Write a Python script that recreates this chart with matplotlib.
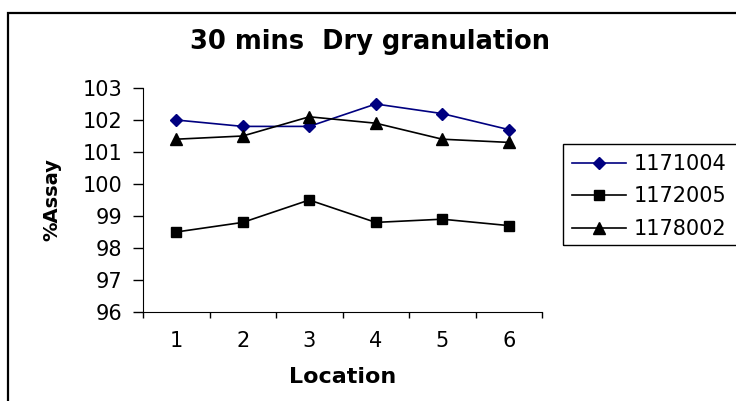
import matplotlib.pyplot as plt
from matplotlib.patches import Rectangle

# Chart data
locations = [1, 2, 3, 4, 5, 6]
batch_1171004 = [102.0, 101.8, 101.8, 102.5, 102.2, 101.7]
batch_1172005 = [98.5, 98.8, 99.5, 98.8, 98.9, 98.7]
batch_1178002 = [101.4, 101.5, 102.1, 101.9, 101.4, 101.3]
series_names = ['1171004', '1172005', '1178002']

W, H = 736, 401
fig = plt.figure(figsize=(W / 100, H / 100), dpi=100)

# outer chart border (right/bottom edges fall off the picture)
fig.patches.append(Rectangle((8 / W, -0.2), 1.5, (H - 13) / H + 0.2,
                             transform=fig.transFigure, fill=False,
                             edgecolor='black', linewidth=1.6))

# plot area in pixel positions
left, right, top, bottom = 143, 542, 88, 312
ax = fig.add_axes([left / W, (H - bottom) / H, (right - left) / W, (bottom - top) / H])

ax.plot(locations, batch_1171004, color='#000080', marker='D', markersize=6.5,
        linewidth=1.2, label=series_names[0])
ax.plot(locations, batch_1172005, color='black', marker='s', markersize=7.5,
        linewidth=1.2, label=series_names[1])
ax.plot(locations, batch_1178002, color='black', marker='^', markersize=8.5,
        linewidth=1.2, label=series_names[2])

ax.set_xlim(0.5, 6.5)
ax.set_ylim(96, 103)
ax.set_yticks(range(96, 104))
ax.set_xticks([0.5 + i for i in range(7)], minor=False)
ax.set_xticklabels([])
ax.set_xticks(locations, minor=True)
ax.set_xticklabels([str(v) for v in locations], minor=True)

ax.spines['top'].set_visible(False)
ax.spines['right'].set_visible(False)
ax.tick_params(axis='y', direction='out', length=7, width=1, labelsize=15, pad=8)
ax.tick_params(axis='x', which='major', direction='out', length=4.5, width=1)
ax.tick_params(axis='x', which='minor', length=0, labelsize=15, pad=14)

ax.set_xlabel('Location', fontsize=16, fontweight='bold', labelpad=11)
ax.set_ylabel('%Assay', fontsize=14, fontweight='bold', labelpad=15)
fig.text(370 / W, (H - 42) / H, '30 mins  Dry granulation', fontsize=18.5,
         fontweight='bold', ha='center', va='center')

# legend box
fig.patches.append(Rectangle((563 / W, (H - 245) / H), 0.5, 101 / H,
                             transform=fig.transFigure, fill=False,
                             edgecolor='black', linewidth=1.0))
fig.legend(loc='upper left', bbox_to_anchor=(572 / W, (H - 154) / H),
           frameon=False, fontsize=15, handlelength=2.6, handletextpad=0.35,
           labelspacing=0.6, borderaxespad=0, borderpad=0)

fig.savefig('out.png', dpi=100)
